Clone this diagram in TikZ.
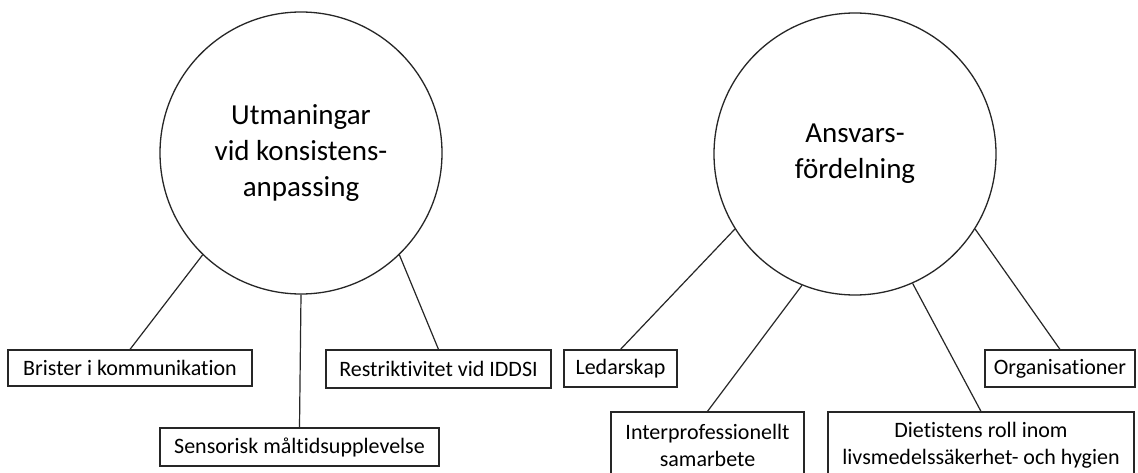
\documentclass[tikz,border=0pt]{standalone}
\usepackage{fontspec}
\setmainfont{Carlito}[Ligatures=NoCommon]
\begin{document}
\begin{tikzpicture}[x=1pt,y=-1pt,
  hub/.style={circle,draw=black!85,line width=1.3pt,minimum size=282pt,inner sep=0pt,align=center,
    font=\fontsize{29}{36}\selectfont},
  leaf/.style={rectangle,draw=black!85,line width=1.2pt,inner sep=0pt,align=center,
    font=\fontsize{22}{27}\selectfont},
  link/.style={draw=black!85,line width=1.2pt}]
\clip (0,0) rectangle (1138,473);
\fill[white] (0,0) rectangle (1138,473);
\node[hub] (L) at (301,153) {Utmaningar\\vid konsistens-\\anpassing};
\node[hub] (R) at (855,154) {Ansvars-\\fördelning};
\node[leaf,minimum width=244pt,minimum height=36pt] (brister) at (130,368) {Brister i kommunikation};
\node[leaf,minimum width=225pt,minimum height=38pt] (restr) at (438.5,369) {Restriktivitet vid IDDSI};
\node[leaf,minimum width=279pt,minimum height=38pt] (sensor) at (299.5,447) {Sensorisk måltidsupplevelse};
\node[leaf,minimum width=113pt,minimum height=37pt] (ledar) at (620.5,368.5) {Ledarskap};
\node[leaf,minimum width=150pt,minimum height=37pt] (organ) at (1060,368.5) {Organisationer};
\node[leaf,minimum width=193pt,minimum height=66pt] (inter) at (707.5,445) {Interprofessionellt\\samarbete};
\node[leaf,minimum width=306pt,minimum height=66pt] (diet) at (981,445) {Dietistens roll inom\\livsmedelssäkerhet- och hygien};
\draw[link] (L.226) -- (brister.north);
\draw[link] (L.314) -- (restr.north);
\draw[link] (L.270) -- (sensor.north);
\draw[link] (R.212) -- (ledar.north);
\draw[link] (R.328) -- (organ.north);
\draw[link] (R.248) -- (inter.north);
\draw[link] (R.294) -- (diet.north);
\end{tikzpicture}
\end{document}
